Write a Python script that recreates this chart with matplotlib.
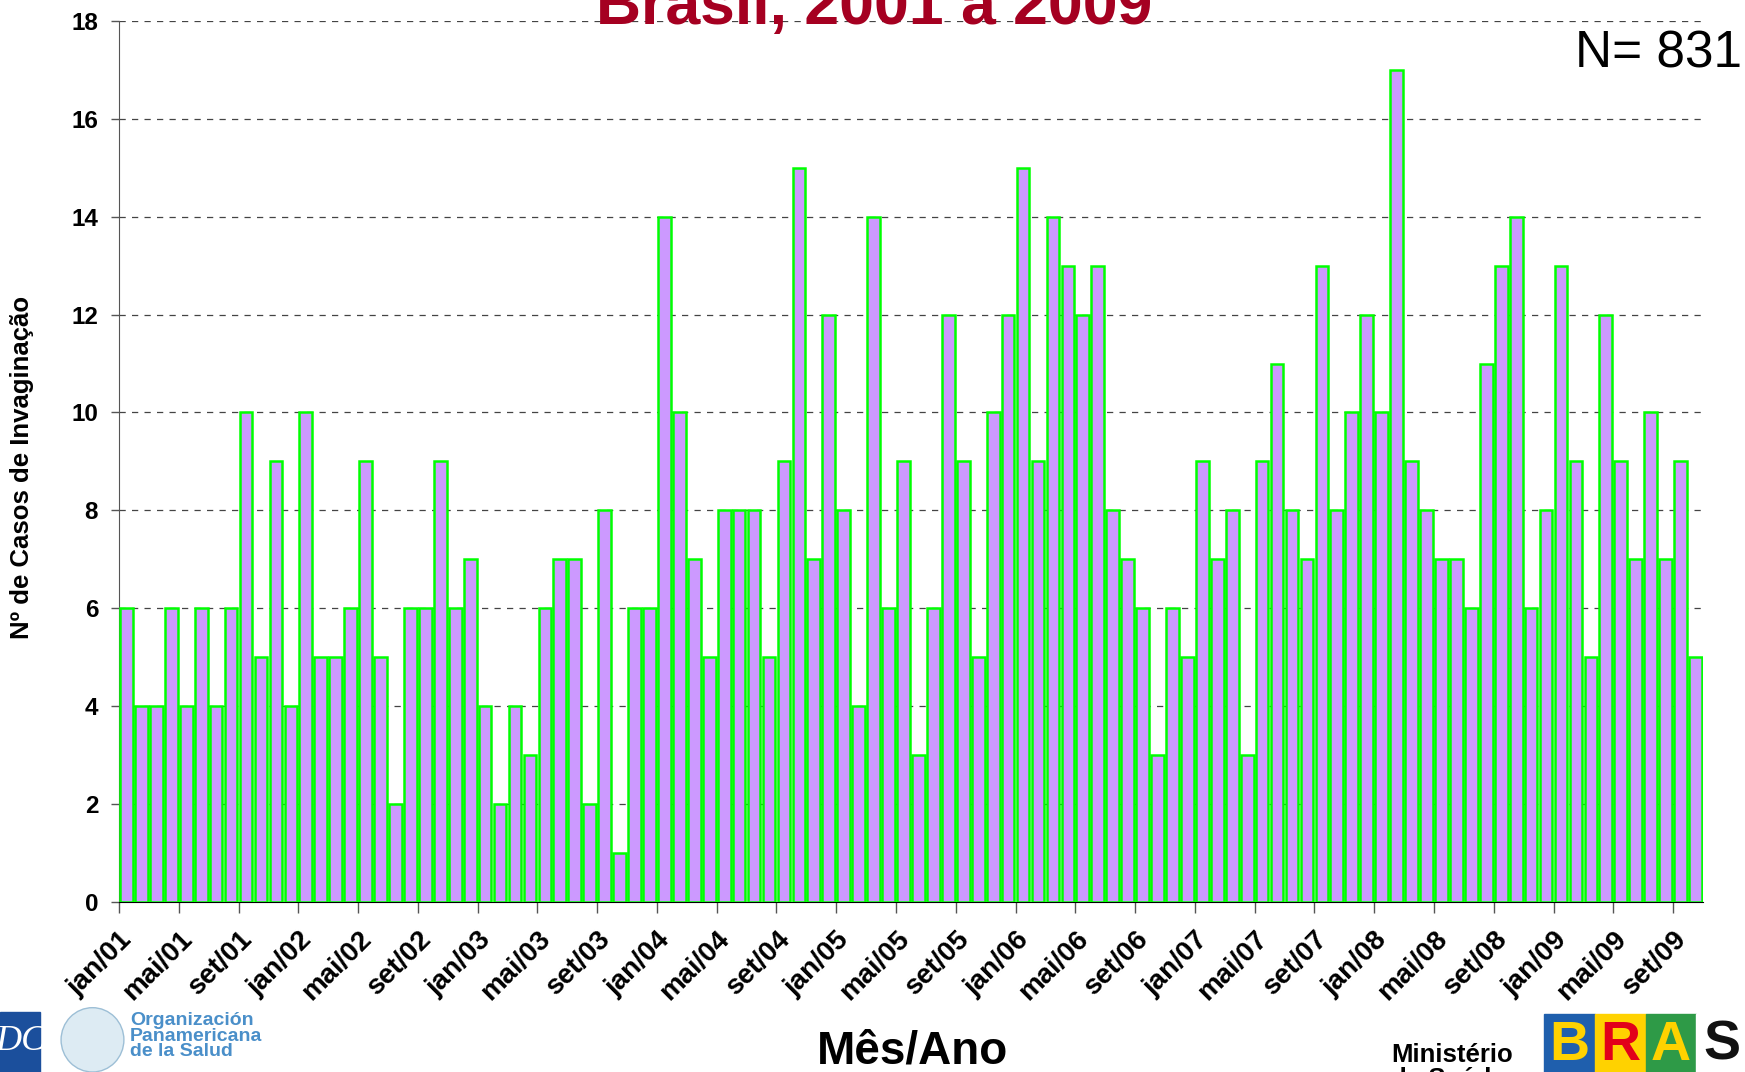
import matplotlib.pyplot as plt
from matplotlib.patches import Rectangle, Ellipse
from matplotlib.transforms import ScaledTranslation

plt.rcParams['font.family'] = ['Liberation Sans', 'DejaVu Sans']

# casos mensais de invaginacao, jan/2001 a out/2009
casos_2001 = [6, 4, 4, 6, 4, 6, 4, 6, 10, 5, 9, 4]
casos_2002 = [10, 5, 5, 6, 9, 5, 2, 6, 6, 9, 6, 7]
casos_2003 = [4, 2, 4, 3, 6, 7, 7, 2, 8, 1, 6, 6]
casos_2004 = [14, 10, 7, 5, 8, 8, 8, 5, 9, 15, 7, 12]
casos_2005 = [8, 4, 14, 6, 9, 3, 6, 12, 9, 5, 10, 12]
casos_2006 = [15, 9, 14, 13, 12, 13, 8, 7, 6, 3, 6, 5]
casos_2007 = [9, 7, 8, 3, 9, 11, 8, 7, 13, 8, 10, 12]
casos_2008 = [10, 17, 9, 8, 7, 7, 6, 11, 13, 14, 6, 8]
casos_2009 = [13, 9, 5, 12, 9, 7, 10, 7, 9, 5]

meses = ['jan', 'fev', 'mar', 'abr', 'mai', 'jun', 'jul', 'ago', 'set', 'out', 'nov', 'dez']
anos = ['01', '02', '03', '04', '05', '06', '07', '08', '09']

casos = (casos_2001 + casos_2002 + casos_2003 + casos_2004 + casos_2005
         + casos_2006 + casos_2007 + casos_2008 + casos_2009)
rotulos = [f"{m}/{a}" for a in anos for m in meses][:len(casos)]
x = list(range(len(casos)))

fig = plt.figure(figsize=(17.45, 10.72), dpi=100)
ax = fig.add_axes([0.0682, 0.159, 0.9077, 0.8213])

ax.bar(x, casos, width=0.85, color='#CC99FF', edgecolor='#00FF00', linewidth=1.8, zorder=3)

ax.set_xlim(-0.5, len(casos) - 0.5)
ax.set_ylim(0, 18)
ax.set_yticks(range(0, 19, 2))
ax.grid(axis='y', linestyle=(0, (5, 5)), color='#444444', linewidth=0.9, zorder=0)

pos_ticks = [i - 0.5 for i in x[::4]]
ax.set_xticks(pos_ticks)
ax.set_xticklabels(rotulos[::4], rotation=45, ha='right', va='top',
                   rotation_mode='anchor', fontsize=20, fontweight='bold')
desloc = ScaledTranslation(-0.09, 0, fig.dpi_scale_trans)
for lb in ax.get_xticklabels():
    lb.set_transform(lb.get_transform() + desloc)
ax.tick_params(axis='x', length=8, width=1, color='#555555', pad=10)
ax.tick_params(axis='y', length=6, width=1, color='#555555', pad=9, labelsize=17.5)
for lb in ax.get_yticklabels():
    lb.set_fontweight('bold')

for s in ['top', 'right']:
    ax.spines[s].set_visible(False)
ax.spines['left'].set_color('#555555')
ax.spines['bottom'].set_color('black')

fig.text(0.0126, 0.564, 'Nº de Casos de Invaginação', rotation=90, ha='center', va='center',
         fontsize=18.5, fontweight='bold')
fig.text(0.523, 0.008, 'Mês/Ano', ha='center', va='baseline', fontsize=33, fontweight='bold')
fig.text(0.501, 0.9776, 'Brasil, 2001 a 2009', ha='center', va='baseline', fontsize=45,
         fontweight='bold', color='#A50021')
fig.text(0.998, 0.9375, 'N= 831', ha='right', va='baseline', fontsize=37)

# rodape com logos (aproximados)
fig.patches.append(Rectangle((0, 0), 0.023, 0.056, transform=fig.transFigure, color='#1B4F9C'))
fig.text(0.012, 0.028, 'DC', ha='center', va='center', color='white', fontsize=26,
         family='Liberation Serif', style='italic')
fig.patches.append(Ellipse((0.053, 0.03), 0.036, 0.06, transform=fig.transFigure,
                           facecolor='#DDEBF3', edgecolor='#9DBFD6'))
fig.text(0.0745, 0.056, 'Organización\nPanamericana\nde la Salud', ha='left', va='top',
         fontsize=14, fontweight='bold', color='#4A8FC9', linespacing=0.9)
fig.text(0.797, 0.027, 'Ministério\nda Saúde', ha='left', va='top', fontsize=18.5,
         fontweight='bold', linespacing=1.0)
cores = ['#1F5FAD', '#FFD200', '#2E9A47', '#FFFFFF']
letras = ['B', 'R', 'A', 'S']
corl = ['#FFD200', '#E2001A', '#FFD200', '#111111']
for i in range(4):
    fig.patches.append(Rectangle((0.885 + i * 0.029, 0), 0.029, 0.054, transform=fig.transFigure,
                                 color=cores[i]))
    fig.text(0.8995 + i * 0.029, 0.0, letras[i], ha='center', va='bottom', fontsize=40,
             fontweight='bold', color=corl[i])

fig.savefig('out.png', dpi=100)
